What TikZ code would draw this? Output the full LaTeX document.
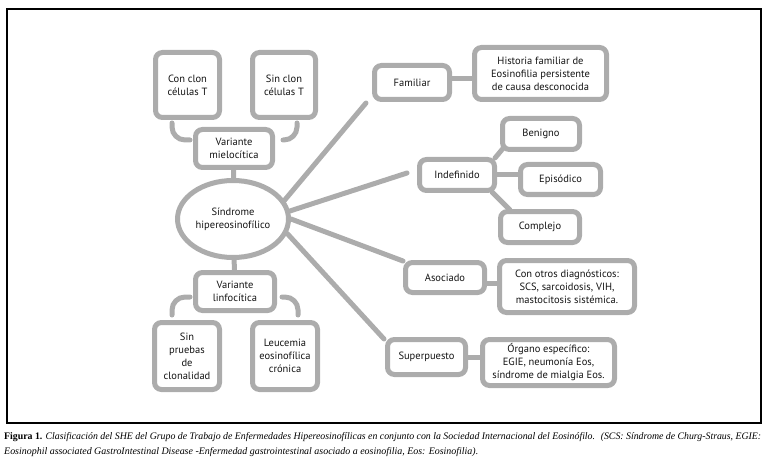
\documentclass[tikz,border=0pt]{standalone}
\usepackage{fontspec}
\usepackage{graphicx}
\usetikzlibrary{shapes.geometric}
\newfontfamily\boxfont{PT Sans}
\newfontfamily\capfont{Liberation Serif}
\definecolor{bordergray}{RGB}{172,172,172}
\definecolor{textcol}{RGB}{20,20,20}
\pgfdeclarelayer{background}
\pgfsetlayers{background,main}
\begin{document}
\begin{tikzpicture}[x=1pt,y=-1pt,
  box/.style={draw=bordergray, line width=5pt, rounded corners=7pt, fill=white,
    align=center, inner sep=0pt, text=textcol,
    font=\boxfont\fontsize{10.5}{13}\selectfont},
  link/.style={draw=bordergray, line width=5pt, line cap=round},
  bracket/.style={draw=bordergray, line width=5pt, line cap=round, rounded corners=13pt}]
\useasboundingbox (0,0) rectangle (765,473);
\draw[line width=2pt] (7,9) rectangle (761,423);

% left column
\node[box, minimum width=64pt, minimum height=65pt] (conT) at (187.5,85) {Con clon\\células T};
\node[box, minimum width=63pt, minimum height=65pt] (sinT) at (284,85) {Sin clon\\células T};
\node[box, minimum width=77pt, minimum height=38pt] (mielo) at (234,148.5) {Variante\\mielocítica};
\node[box, ellipse, minimum width=111pt, minimum height=77pt] (ell) at (233,219) {Síndrome\\hipereosinofílico};
\node[box, minimum width=79pt, minimum height=38pt] (linfo) at (235,291.5) {Variante\\linfocítica};
\node[box, minimum width=65pt, minimum height=67pt] (sinPr) at (187,356) {Sin\\pruebas\\de\\clonalidad};
\node[box, minimum width=65pt, minimum height=67pt] (leuc) at (285,356) {Leucemia\\eosinofílica\\crónica};

% right side
\node[box, minimum width=75pt, minimum height=34pt] (fam) at (412,82.5) {Familiar};
\node[box, minimum width=132pt, minimum height=52pt] (hist) at (540.5,73.5) {Historia familiar de\\Eosinofilia persistente\\de causa desconocida};
\node[box, minimum width=77pt, minimum height=31pt] (ben) at (541,134) {Benigno};
\node[box, minimum width=75pt, minimum height=31pt] (indef) at (457,175) {Indefinido};
\node[box, minimum width=80pt, minimum height=30pt] (epis) at (560.5,179.5) {Episódico};
\node[box, minimum width=79pt, minimum height=31pt] (compl) at (540,227) {Complejo};
\node[box, minimum width=79pt, minimum height=30pt] (asoc) at (445,277.5) {Asociado};
\node[box, minimum width=135pt, minimum height=52pt] (otros) at (567,286.5) {Con otros diagnósticos:\\SCS, sarcoidosis, VIH,\\mastocitosis sistémica.};
\node[box, minimum width=78pt, minimum height=35pt] (super) at (426.5,357) {Superpuesto};
\node[box, minimum width=132pt, minimum height=46pt] (organo) at (548.5,362.5) {Órgano específico:\\EGIE, neumonía Eos,\\síndrome de mialgia Eos.};

\begin{pgfonlayer}{background}
  \draw[link] (mielo.center) -- (ell.center);
  \draw[link] (ell.center) -- (linfo.center);
  \draw[bracket] ([shift={(-15.5,3)}]conT.south) |- ([shift={(-3,-8.5)}]mielo.west);
  \draw[bracket] ([shift={(13,3)}]sinT.south) |- ([shift={(8,-8.5)}]mielo.east);
  \draw[bracket] ([shift={(-15,-5)}]sinPr.north) |- ([shift={(-3,5.5)}]linfo.west);
  \draw[bracket] ([shift={(13,-5)}]leuc.north) |- ([shift={(5,5.5)}]linfo.east);
  % spokes
  \draw[link] (ell.20) -- ([shift={(-6,1)}]fam.south west);
  \draw[link] (ell.8) -- ([shift={(-10,-2)}]indef.west);
  \draw[link] (ell.0) -- ([shift={(0,1)}]asoc.north west);
  \draw[link] (ell.-15) -- ([shift={(-1,2)}]super.north west);
  % side links
  \draw[link] ([shift={(0,-3.5)}]fam.east) -- ([shift={(0,-3.5)}]fam.east -| hist.west);
  \draw[link] ([shift={(-2,1)}]indef.north east) -- ([shift={(5,-6)}]ben.south west);
  \draw[link] (indef.east) -- (indef.east -| epis.west);
  \draw[link] ([shift={(-5,-1)}]indef.south east) -- ([shift={(12,1)}]compl.north west);
  \draw[link] ([shift={(0,5.5)}]asoc.east) -- ([shift={(0,5.5)}]asoc.east -| otros.west);
  \draw[link] (super.east) -- (super.east -| organo.west);
\end{pgfonlayer}

% caption
\node[anchor=base west, inner sep=0pt] (cap1) at (4,439) {\resizebox{757pt}{\height}{\capfont\fontsize{10}{12}\selectfont\textbf{Figura 1.} \textit{Clasificación del SHE del Grupo de Trabajo de Enfermedades Hipereosinofílicas en conjunto con la Sociedad Internacional del Eosinófilo. \ (SCS: Síndrome de Churg-Straus, EGIE:}}};
\node[anchor=base west, inner sep=0pt] (cap2) at (4,454) {\resizebox{474pt}{\height}{\capfont\fontsize{10}{12}\selectfont\textit{Eosinophil associated GastroIntestinal Disease -Enfermedad gastrointestinal asociado a eosinofilia, Eos: Eosinofilia).}}};
\end{tikzpicture}
\end{document}
